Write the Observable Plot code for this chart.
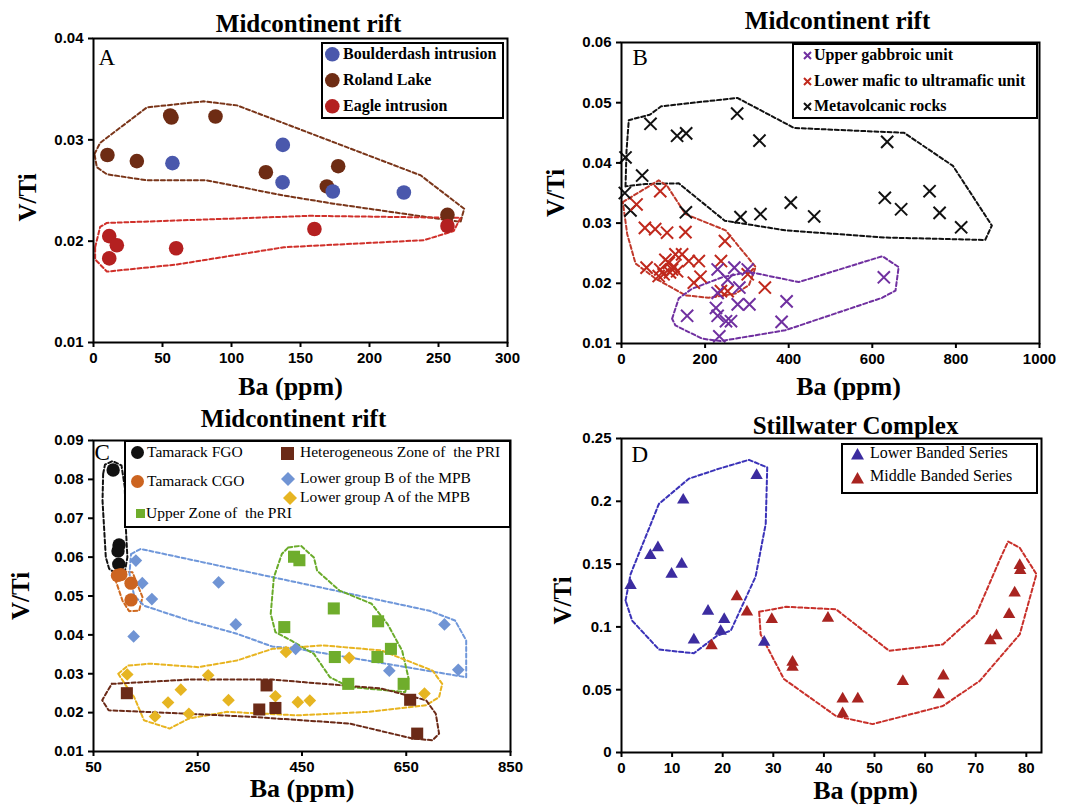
<!DOCTYPE html>
<html><head><meta charset="utf-8">
<script src="https://cdn.jsdelivr.net/npm/d3@7"></script>
<script src="https://cdn.jsdelivr.net/npm/@observablehq/plot@0.6"></script>
<style>
body{margin:0;background:#fff;}
#root{position:relative;width:1073px;height:805px;overflow:hidden;background:#fff;}
.legend{position:absolute;border:2px solid #000;box-sizing:border-box;background:#fff;}
.li{position:absolute;white-space:pre;font-family:"Liberation Serif","Times New Roman",serif;line-height:1;color:#000;}
.mk{position:absolute;overflow:visible;}
</style></head><body><div id="root"></div>
<script>
// ---------- Panel A : Midcontinent rift ----------
const boulderdash = [[57.2,0.0277],[137.2,0.0295],[137,0.0258],[173.4,0.0249],[224.9,0.0248]];
const rolandLake = [[10.1,0.0285],[31.4,0.0279],[55.6,0.0324],[56.5,0.0322],[88.4,0.0323],[124.9,0.0268],[169.1,0.0254],[177.3,0.0274],[256.5,0.0226]];
const eagle = [[11.4,0.0205],[16.9,0.0196],[11.4,0.0183],[59.9,0.0193],[160.1,0.0212],[256.5,0.0215]];
const hullRolandA = [[0.7,0.0286],[4.8,0.0297],[38.7,0.0332],[79.8,0.0338],[104,0.0334],[237,0.0265],[268.6,0.0232],[266,0.0219],[174,0.0237],[138,0.0245],[82,0.0260],[38.7,0.0260],[9.7,0.0266],[2.4,0.0273]];
const hullEagleA = [[1.2,0.0194],[4.8,0.0214],[9.7,0.0218],[157,0.0225],[266,0.0223],[261,0.0210],[239.5,0.0201],[138,0.0194],[60.5,0.0177],[9.7,0.0170],[1.2,0.0182]];
const xTicksA = [0,50,100,150,200,250,300];
const yTicksA = [0.01,0.02,0.03,0.04];
const legendA = ["Boulderdash intrusion","Roland Lake","Eagle intrusion"];

// ---------- Panel B : Midcontinent rift ----------
const metavolcanic = [[9.6,0.0409],[8,0.0350],[21.5,0.0321],[49.4,0.0379],[69.4,0.0465],[133,0.0445],[154.7,0.0449],[154,0.0318],[276.7,0.0482],[284.7,0.0310],[330,0.0437],[332.5,0.0315],[405,0.0334],[461,0.0311],[630,0.0342],[635.6,0.0435],[669,0.0323],[737,0.0353],[761,0.0317],[812.6,0.0293]];
const lowerMafic = [[92.7,0.0353],[36,0.0331],[56,0.0292],[80.6,0.0290],[109,0.0284],[153,0.0285],[247.5,0.0270],[60,0.0226],[92.7,0.0223],[100.7,0.0215],[113,0.0234],[121,0.0223],[129,0.0248],[145,0.0248],[133,0.0220],[161,0.0237],[185,0.0237],[173,0.0201],[189,0.0211],[238,0.0237],[238,0.0187],[254,0.0187],[302,0.0215],[343,0.0193],[105,0.0239],[89,0.0212],[116,0.0218],[125,0.0228]];
const upperGabbroic = [[230,0.0223],[270,0.0226],[302,0.0223],[254,0.0206],[282,0.0193],[230,0.0184],[278,0.0165],[306,0.0165],[226,0.0159],[230,0.0146],[250,0.0137],[262,0.0137],[157,0.0146],[234,0.0112],[395,0.0170],[383,0.0136],[627.6,0.0210]];
const hullMetaB = [[9.6,0.0361],[12,0.0420],[17.4,0.0471],[67.7,0.0480],[94.9,0.0494],[277,0.0508],[413,0.0458],[676,0.0450],[793,0.0395],[886,0.0296],[870,0.0272],[631.6,0.0276],[392,0.0288],[247,0.0304],[137,0.0366],[57,0.0365]];
const hullLowerB = [[3.2,0.0335],[89,0.0371],[109,0.0362],[153,0.0315],[249,0.0288],[321,0.0227],[305,0.0197],[273,0.0183],[209,0.0176],[153,0.0180],[81,0.0208],[33.5,0.0233],[13.6,0.0282]];
const hullUpperB = [[121,0.0141],[137,0.0175],[169,0.0191],[241,0.0210],[305,0.0219],[424,0.0202],[624,0.0245],[663,0.0227],[655.5,0.0188],[624,0.0176],[392,0.0122],[237,0.0104],[193,0.0108],[129,0.0130]];
const xTicksB = [0,200,400,600,800,1000];
const yTicksB = [0.01,0.02,0.03,0.04,0.05,0.06];
const legendB = ["Upper gabbroic unit","Lower mafic to ultramafic unit","Metavolcanic rocks"];

// ---------- Panel C : Midcontinent rift ----------
const tamarackFGO = [[87.7,0.0824],[99,0.0631],[97,0.0616],[98.5,0.0582]];
const tamarackCGO = [[96,0.0553],[102.4,0.0555],[122,0.0533],[122,0.0490]];
const lowerGroupB = [[131.3,0.0591],[143.6,0.0533],[162,0.0492],[127,0.0396],[290,0.0535],[323,0.0427],[437.8,0.0364],[617.5,0.0308],[723.3,0.0427],[749.8,0.0310]];
const lowerGroupA = [[114.7,0.0298],[168,0.0190],[193,0.0226],[217.5,0.0259],[233,0.0197],[270,0.0296],[309,0.0232],[399,0.0242],[419.3,0.0356],[442,0.0227],[465,0.0231],[540.5,0.0341],[685,0.0249]];
const upperZonePRI = [[434.7,0.0601],[445,0.0592],[511,0.0468],[416,0.0420],[596,0.0435],[620.6,0.0364],[513,0.0343],[594.7,0.0343],[538.7,0.0274],[645,0.0274]];
const heteroZonePRI = [[114,0.0250],[382,0.0270],[368,0.0208],[399,0.0212],[657.5,0.0233],[671,0.0146]];
const hullFGO = [[68.5,0.0814],[72,0.0838],[86.4,0.0847],[103.7,0.0836],[110,0.078],[112,0.0677],[115,0.060],[110,0.0561],[92.8,0.0558],[80,0.057],[73.6,0.060],[67.3,0.0745]];
const hullCGO = [[92.8,0.0565],[124.8,0.0561],[144,0.0497],[137.5,0.0462],[118.4,0.0461],[105.6,0.0488],[92.8,0.0539]];
const hullGroupB = [[122,0.0608],[140.6,0.0621],[694.4,0.0462],[743.6,0.0437],[765,0.0386],[765,0.0291],[442,0.0364],[393,0.0370],[325,0.0403],[233,0.0437],[147,0.0475],[128,0.0501],[119,0.0557]];
const hullUpperZone = [[423.6,0.0625],[448,0.0629],[472.9,0.0599],[479,0.0565],[522,0.0514],[583.6,0.0480],[614,0.0428],[642,0.0360],[654,0.0291],[648,0.0253],[540.5,0.0266],[503.6,0.0291],[472.9,0.0351],[429.8,0.0385],[399,0.0407],[390,0.0454],[396,0.0548],[411.3,0.0608]];
const hullGroupA = [[97.5,0.0300],[116,0.0321],[159,0.0326],[251,0.0317],[325,0.0334],[393,0.0364],[491,0.0373],[602,0.0360],[700.6,0.0308],[719,0.0274],[713,0.0240],[688,0.0219],[577,0.0202],[442,0.0193],[306.7,0.0202],[233,0.0185],[196,0.0159],[147,0.0180],[128,0.0240],[110,0.0274]];
const hullHetero = [[85,0.0274],[233,0.0285],[393,0.0285],[602,0.0262],[688,0.0232],[706.7,0.0197],[713,0.0146],[700.6,0.0129],[663.6,0.0133],[540.5,0.0172],[356,0.0189],[233,0.0197],[79,0.0206],[66.7,0.0232]];
const xTicksC = [50,250,450,650,850];
const yTicksC = [0.01,0.02,0.03,0.04,0.05,0.06,0.07,0.08,0.09];
const legendC = ["Tamarack FGO","Tamarack CGO","Upper Zone of  the PRI","Heterogeneous Zone of  the PRI","Lower group B of the MPB","Lower group A of the MPB"];

// ---------- Panel D : Stillwater Complex ----------
const lowerBanded = [[1.8,0.133],[5.7,0.157],[7.2,0.163],[9.9,0.142],[11.9,0.150],[12.2,0.201],[14.3,0.0896],[17.1,0.1125],[19.6,0.0965],[20.3,0.1059],[26.7,0.2207],[28.2,0.0878]];
const middleBanded = [[17.8,0.085],[22.8,0.124],[24.8,0.112],[29.7,0.106],[40.8,0.107],[33.8,0.072],[33.8,0.068],[43.7,0.0426],[43.7,0.031],[46.7,0.0426],[55.6,0.0566],[62.7,0.046],[63.6,0.061],[72.9,0.089],[74.1,0.093],[76.6,0.110],[77.7,0.127],[78.7,0.149],[78.8,0.145]];
const hullLowerD = [[0.8,0.121],[1.8,0.142],[7.4,0.198],[13.3,0.218],[19.3,0.226],[25.2,0.233],[28.8,0.227],[28.5,0.182],[26.5,0.140],[24.9,0.126],[21.6,0.097],[18.9,0.093],[14.3,0.079],[7.4,0.082],[2.1,0.105]];
const hullMiddleD = [[27.2,0.112],[32.5,0.116],[42.4,0.114],[52.9,0.081],[63.5,0.086],[70.1,0.110],[74.7,0.153],[76.4,0.168],[78.7,0.163],[82,0.142],[78.7,0.094],[70.8,0.057],[63.5,0.037],[49.6,0.0226],[42.4,0.029],[32.1,0.0585],[27.5,0.094]];
const xTicksD = [0,10,20,30,40,50,60,70,80];
const yTicksD = [0,0.05,0.1,0.15,0.2,0.25];
const legendD = ["Lower Banded Series","Middle Banded Series"];

// ---------- drawing ----------
const SERIF = "'Liberation Serif','Times New Roman',serif";
const SANS = "'Liberation Sans',Arial,sans-serif";
const root = document.getElementById("root");

const hull = (pts, stroke) => Plot.line(pts.concat([pts[0]]), {x: d => d[0], y: d => d[1], stroke, strokeWidth: 2, strokeDasharray: "4,2.6"});
const dots = (pts, opts) => Plot.dot(pts, {x: d => d[0], y: d => d[1], ...opts});

function panel(c) {
  const svg = Plot.plot({
    width: c.w, height: c.h,
    marginLeft: c.ml, marginRight: c.mr, marginTop: c.mt, marginBottom: c.mb,
    x: {domain: c.xd}, y: {domain: c.yd},
    style: {fontFamily: SANS, fontSize: "15px", fontWeight: "bold", color: "#000", background: "transparent", overflow: "visible"},
    marks: [
      ...c.marks,
      Plot.frame({stroke: "#000", strokeWidth: 2}),
      Plot.axisX({ticks: c.xt, tickFormat: d => String(d), tickSize: 5, tickPadding: 5, strokeWidth: 2, label: null, fontSize: 15, fontWeight: "bold"}),
      Plot.axisY({ticks: c.yt, tickFormat: d => String(d), tickSize: 5, tickPadding: 5, strokeWidth: 2, label: null, fontSize: 15, fontWeight: "bold"}),
      Plot.text([c.title], {text: d => d, frameAnchor: "top", textAnchor: "middle", lineAnchor: "middle", dx: c.tdx, dy: c.tdy, fontFamily: SERIF, fontSize: 25, fontWeight: "bold"}),
      Plot.text(["Ba (ppm)"], {text: d => d, frameAnchor: "bottom", textAnchor: "middle", lineAnchor: "middle", dx: c.xldx, dy: c.xldy, fontFamily: SERIF, fontSize: 26, fontWeight: "bold"}),
      Plot.text(["V/Ti"], {text: d => d, frameAnchor: "left", textAnchor: "middle", lineAnchor: "middle", rotate: -90, dx: c.yldx, dy: c.yldy, fontFamily: SERIF, fontSize: 25, fontWeight: "bold"}),
      Plot.text([c.letter], {text: d => d, frameAnchor: "top-left", textAnchor: "start", lineAnchor: "top", dx: c.ldx, dy: c.ldy, fontFamily: SERIF, fontSize: 23, fontWeight: "normal"})
    ]
  });
  svg.style.position = "absolute";
  svg.style.left = c.left + "px";
  svg.style.top = c.top + "px";
  svg.style.overflow = "visible";
  root.appendChild(svg);
}

panel({left: 0, top: 0, w: 536, h: 400, ml: 93, mr: 29, mt: 38, mb: 58,
  xd: [0, 300], yd: [0.01, 0.04], xt: xTicksA, yt: yTicksA,
  title: "Midcontinent rift", tdx: 8, tdy: -15, xldx: -10, xldy: 44, yldx: -66, yldy: 7, letter: "A", ldx: 5, ldy: 10,
  marks: [hull(hullRolandA, "#7a3519"), hull(hullEagleA, "#d0302a"),
    dots(rolandLake, {r: 7.3, fill: "#6e2c14"}),
    dots(boulderdash, {r: 7.3, fill: "#4a58ac"}),
    dots(eagle, {r: 7.3, fill: "#b42020"})]
});

panel({left: 536, top: 0, w: 537, h: 400, ml: 85, mr: 34, mt: 42, mb: 57,
  xd: [0, 1000], yd: [0.01, 0.06], xt: xTicksB, yt: yTicksB,
  title: "Midcontinent rift", tdx: 7, tdy: -22, xldx: 18, xldy: 43, yldx: -66, yldy: 0, letter: "B", ldx: 11, ldy: 6,
  marks: [hull(hullMetaB, "#111"), hull(hullLowerB, "#c0392b"), hull(hullUpperB, "#7030a0"),
    dots(metavolcanic, {symbol: "times", r: 5.6, stroke: "#111", strokeWidth: 2}),
    dots(lowerMafic, {symbol: "times", r: 5.6, stroke: "#c0291d", strokeWidth: 2}),
    dots(upperGabbroic, {symbol: "times", r: 5.6, stroke: "#7030a0", strokeWidth: 2})]
});

panel({left: 0, top: 400, w: 536, h: 405, ml: 93, mr: 26, mt: 40, mb: 54,
  xd: [50, 850], yd: [0.01, 0.09], xt: xTicksC, yt: yTicksC,
  title: "Midcontinent rift", tdx: -8.5, tdy: -22, xldx: 0, xldy: 37, yldx: -73, yldy: 0, letter: "C", ldx: 1, ldy: 3,
  marks: [hull(hullFGO, "#111"), hull(hullCGO, "#d06a20"), hull(hullGroupB, "#6f97da"), hull(hullUpperZone, "#6aab2a"),
    hull(hullGroupA, "#e8b420"), hull(hullHetero, "#6b2a17"),
    dots(lowerGroupB, {symbol: "diamond2", r: 5.7, fill: "#7094d4"}),
    dots(lowerGroupA, {symbol: "diamond2", r: 5.7, fill: "#e6b522"}),
    dots(upperZonePRI, {symbol: "square", r: 6.8, fill: "#6fad2c"}),
    dots(heteroZonePRI, {symbol: "square", r: 6.8, fill: "#6b2a17"}),
    dots(tamarackFGO, {r: 6.7, fill: "#111"}),
    dots(tamarackCGO, {r: 6.7, fill: "#cc6420"})]
});

panel({left: 536, top: 400, w: 537, h: 405, ml: 85, mr: 32, mt: 38, mb: 53,
  xd: [0, 83], yd: [0, 0.25], xt: xTicksD, yt: yTicksD,
  title: "Stillwater Complex", tdx: 24, tdy: -13, xldx: 34, xldy: 38, yldx: -59, yldy: 5, letter: "D", ldx: 10, ldy: 7,
  marks: [hull(hullLowerD, "#3a32b8"), hull(hullMiddleD, "#c8302a"),
    dots(middleBanded, {symbol: "triangle", r: 4.6, fill: "#a82420"}),
    dots(lowerBanded, {symbol: "triangle", r: 4.6, fill: "#3c2ca0"})]
});

// ---------- legends (HTML) ----------
function box(l, t, w, h) {
  const d = document.createElement("div");
  d.className = "legend";
  Object.assign(d.style, {left: l + "px", top: t + "px", width: w + "px", height: h + "px"});
  root.appendChild(d);
}
function marker(shape, color, s, cx, cy) {
  const r = s / 2;
  let inner = "";
  if (shape === "circle") inner = `<circle cx="${r}" cy="${r}" r="${r}" fill="${color}"/>`;
  else if (shape === "times") inner = `<path d="M1,1L${s-1},${s-1}M${s-1},1L1,${s-1}" stroke="${color}" stroke-width="2" fill="none"/>`;
  else if (shape === "diamond") inner = `<polygon points="${r},0 ${s},${r} ${r},${s} 0,${r}" fill="${color}"/>`;
  else if (shape === "square") inner = `<rect x="0" y="0" width="${s}" height="${s}" fill="${color}"/>`;
  else if (shape === "triangle") inner = `<polygon points="${r},0 ${s},${s*0.88} 0,${s*0.88}" fill="${color}"/>`;
  const el = document.createElementNS("http://www.w3.org/2000/svg", "svg");
  el.setAttribute("class", "mk");
  el.setAttribute("width", s); el.setAttribute("height", s);
  el.style.left = (cx - r) + "px"; el.style.top = (cy - r) + "px";
  el.innerHTML = inner;
  root.appendChild(el);
}
function label(txt, x, cy, size, bold) {
  const s = document.createElement("span");
  s.className = "li";
  s.textContent = txt;
  Object.assign(s.style, {left: x + "px", top: (cy - size * 0.52) + "px", fontSize: size + "px", fontWeight: bold ? "bold" : "normal"});
  root.appendChild(s);
}

// A
box(321, 42, 183, 77);
[["#4a58ac", 54], ["#6e2c14", 80], ["#b42020", 106]].forEach(([c, y], i) => { marker("circle", c, 14.6, 332, y); label(legendA[i], 343, y, 16, true); });
// B
box(792, 43, 246, 76);
[["#7030a0", 55], ["#c0291d", 81], ["#111", 106]].forEach(([c, y], i) => { marker("times", c, 9, 807, y); label(legendB[i], 814, y, 16, true); });
// C
box(124, 440, 387, 88);
marker("circle", "#111", 13, 137, 452); label(legendC[0], 147, 452, 15.5, false);
marker("circle", "#cc6420", 13, 137, 481); label(legendC[1], 147, 481, 15.5, false);
marker("square", "#6fad2c", 9, 140, 513); label(legendC[2], 146, 513, 15.5, false);
marker("square", "#6b2a17", 13, 287, 453); label(legendC[3], 300, 452, 15.5, false);
marker("diamond", "#7094d4", 14, 288, 479); label(legendC[4], 300, 478, 15.5, false);
marker("diamond", "#e6b522", 14, 290, 498); label(legendC[5], 300, 497, 15.5, false);
// D
box(841, 443, 197, 51);
marker("triangle", "#3c2ca0", 13, 857, 454); label(legendD[0], 870, 453, 16, false);
marker("triangle", "#a82420", 13, 857, 478); label(legendD[1], 870, 476, 16, false);
</script></body></html>
